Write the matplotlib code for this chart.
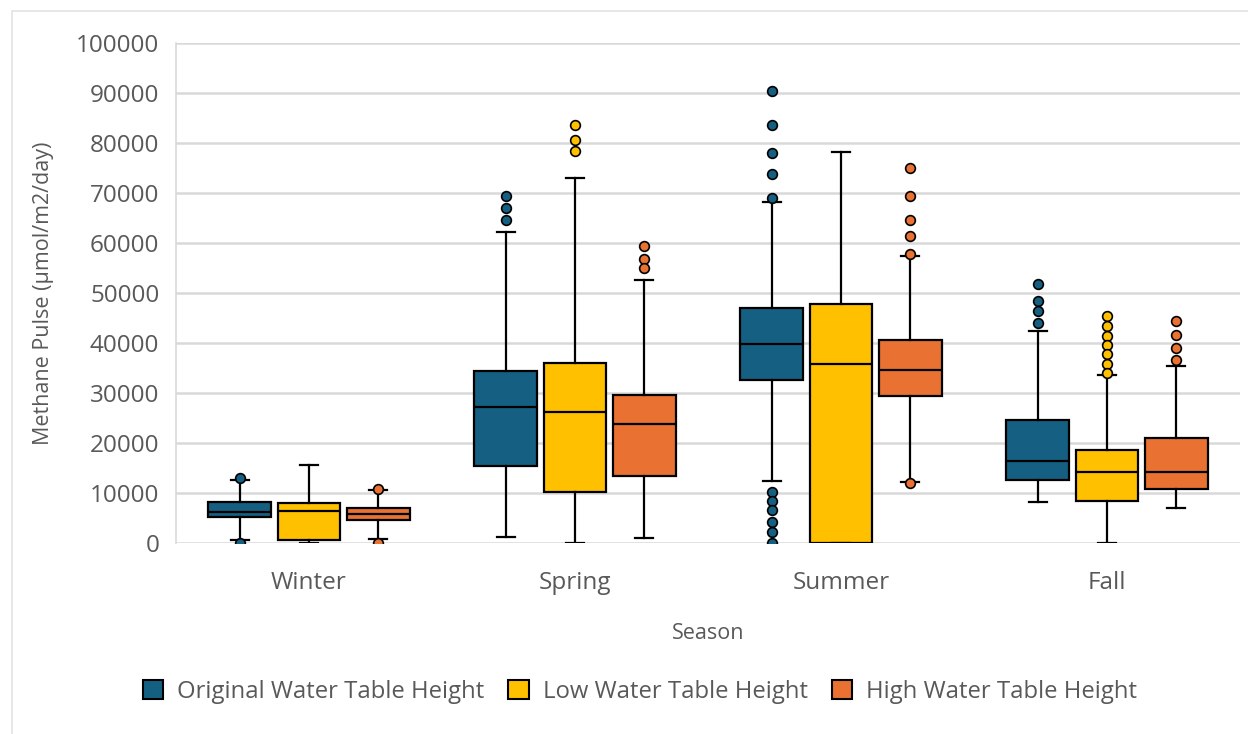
import matplotlib
matplotlib.use("Agg")
import matplotlib.pyplot as plt
from matplotlib.patches import Patch, Rectangle

plt.rcParams['font.family'] = ['Open Sans', 'DejaVu Sans']

seasons = ["Winter", "Spring", "Summer", "Fall"]
series_names = ["Original Water Table Height", "Low Water Table Height", "High Water Table Height"]
colors = ["#156082", "#FFC000", "#E97132"]

# Box-plot summary statistics per season (Winter, Spring, Summer, Fall)
orig_q1 = [5200, 15400, 32700, 12700]
orig_med = [6300, 27300, 39900, 16500]
orig_q3 = [8300, 34500, 47100, 24600]
orig_lo = [600, 1300, 12500, 8200]
orig_hi = [12700, 62200, 68200, 42500]
orig_fliers = [
    [13100, 0],
    [69500, 67100, 64700],
    [90500, 83700, 78100, 73900, 69000, 10200, 8500, 6600, 4300, 2200, 100],
    [51900, 48500, 46500, 44100],
]

low_q1 = [700, 10200, 0, 8500]
low_med = [6400, 26200, 35900, 14200]
low_q3 = [8100, 36100, 47900, 18600]
low_lo = [0, 0, 0, 0]
low_hi = [15700, 73100, 78300, 33700]
low_fliers = [
    [],
    [83700, 80700, 78500],
    [],
    [45400, 43500, 41400, 39700, 37800, 35900, 34100],
]

high_q1 = [4600, 13400, 29400, 10900]
high_med = [5900, 23800, 34700, 14200]
high_q3 = [7100, 29700, 40600, 21100]
high_lo = [900, 1100, 12300, 7100]
high_hi = [10700, 52600, 57400, 35400]
high_fliers = [
    [10900, 0],
    [59400, 56900, 55100],
    [75000, 69400, 64700, 61400, 57900, 12100],
    [44500, 41700, 39100, 36700],
]

y_ticks = list(range(0, 100001, 10000))

series = [
    (orig_q1, orig_med, orig_q3, orig_lo, orig_hi, orig_fliers),
    (low_q1, low_med, low_q3, low_lo, low_hi, low_fliers),
    (high_q1, high_med, high_q3, high_lo, high_hi, high_fliers),
]

text_color = "#595959"
grid_color = "#D9D9D9"

fig = plt.figure(figsize=(12.48, 7.34), dpi=100)
ax = fig.add_axes([0.141, 0.2602, 0.8526, 0.6812])

# light frame around the chart area
fig.add_artist(Rectangle((12 / 1248, -0.01), 1.02, 1 - 11 / 734 + 0.01,
                         transform=fig.transFigure, fill=False,
                         edgecolor="#E3E3E3", linewidth=1.2))

offsets = [-0.26, 0.0, 0.26]
box_w = 0.236
for s, (q1, med, q3, lo, hi, fl) in enumerate(series):
    stats = []
    for i in range(len(seasons)):
        stats.append(dict(q1=q1[i], med=med[i], q3=q3[i], whislo=lo[i],
                          whishi=hi[i], fliers=fl[i]))
    positions = [i + offsets[s] for i in range(len(seasons))]
    ax.bxp(stats, positions=positions, widths=box_w, capwidths=0.068,
           patch_artist=True, manage_ticks=False,
           boxprops=dict(facecolor=colors[s], edgecolor="black", linewidth=1.6),
           medianprops=dict(color="black", linewidth=1.6),
           whiskerprops=dict(color="black", linewidth=1.6),
           capprops=dict(color="black", linewidth=1.6),
           flierprops=dict(marker="o", markerfacecolor=colors[s],
                           markeredgecolor="black", markersize=7,
                           markeredgewidth=1.2))

ax.set_xlim(-0.5, len(seasons) - 0.5)
ax.set_ylim(0, 100000)
ax.set_yticks(y_ticks)
ax.set_yticklabels([str(t) for t in y_ticks])
ax.set_xticks(range(len(seasons)))
ax.set_xticklabels(seasons)
ax.tick_params(axis="both", length=0, labelsize=17.5, labelcolor=text_color)
ax.tick_params(axis="y", pad=12)
ax.tick_params(axis="x", pad=20)

ax.grid(axis="y", color=grid_color, linewidth=1.8)
ax.set_axisbelow(True)
for side in ["top", "right", "bottom"]:
    ax.spines[side].set_visible(False)
ax.spines["left"].set_color(grid_color)
ax.spines["left"].set_linewidth(1.2)

ax.set_xlabel("Season", fontsize=15.5, color=text_color, labelpad=20)
ax.set_ylabel("Methane Pulse (µmol/m2/day)", fontsize=15.5, color=text_color, labelpad=16)

handles = [Patch(facecolor=c, edgecolor="black", linewidth=1.5) for c in colors]
fig.legend(handles, series_names, loc="center", bbox_to_anchor=(640 / 1248, 1 - 692 / 734),
           ncol=3, frameon=False, fontsize=17.2, labelcolor=text_color,
           handlelength=0.85, handleheight=0.85, handletextpad=0.6, columnspacing=1.0)

fig.savefig("out.png", dpi=100)
